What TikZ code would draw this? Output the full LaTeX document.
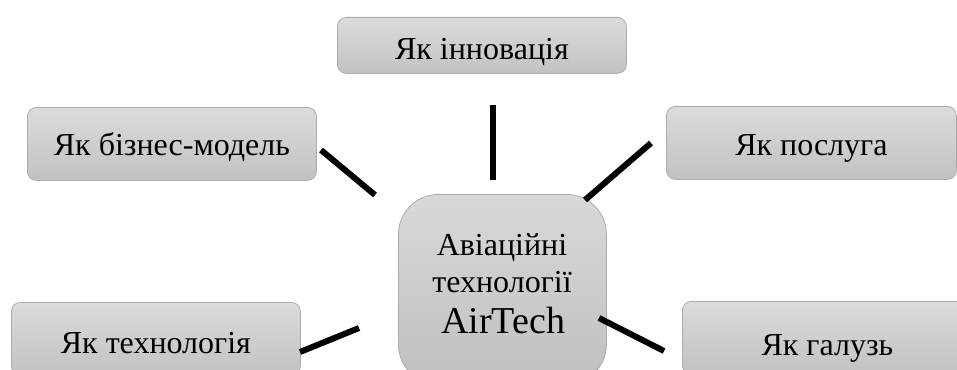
\documentclass[tikz,border=0pt]{standalone}
\usepackage{fontspec}
\setmainfont{Liberation Serif}
\begin{document}
\begin{tikzpicture}[x=1pt,y=-1pt,
  topic/.style={draw=gray!65, line width=0.8pt, rounded corners=9pt,
    top color=gray!28, bottom color=gray!48, inner sep=0pt,
    minimum width=289pt, minimum height=73pt, anchor=north west,
    text depth=0pt, font=\fontsize{32}{36}\selectfont, text=black},
  hub/.style={draw=gray!65, line width=0.8pt, rounded corners=40pt,
    top color=gray!30, bottom color=gray!50, inner sep=0pt},
  hubline/.style={anchor=base, inner sep=0pt, text=black},
  link/.style={line width=6pt, black}]
  \useasboundingbox (0,0) rectangle (957,369);

  % centre box and its three lines of text
  \node[hub, minimum width=208pt, minimum height=190pt, anchor=north west]
    (hub) at (398,194) {};
  \node[hubline, font=\fontsize{32}{36}\selectfont] (hubA) at (502,255) {Авіаційні};
  \node[hubline, font=\fontsize{32}{36}\selectfont] (hubB) at (502,292) {технології};
  \node[hubline, font=\fontsize{38}{42}\selectfont] (hubC) at (503,333) {AirTech};

  % surrounding topics
  \node[topic, minimum height=56pt, text height=28pt]
    (innov) at (337,17) {Як інновація};
  \node[topic, minimum height=73pt, text height=23pt]
    (biz) at (27,107) {Як бізнес-модель};
  \node[topic, minimum width=290pt, minimum height=73pt, text height=25pt]
    (serv) at (666,106) {Як послуга};
  \node[topic, text height=29pt] (tech) at (11,302) {Як технологія};
  \node[topic, minimum width=290pt, text height=35pt] (ind) at (682,301) {Як галузь};

  % connector ends
  \coordinate (innovA) at (493,105);
  \coordinate (innovB) at (493,180);
  \coordinate (bizA) at (321,150);
  \coordinate (bizB) at (375,195);
  \coordinate (servA) at (651,143);
  \coordinate (servB) at (585,200);
  \coordinate (techA) at (300,352);
  \coordinate (techB) at (359,328);
  \coordinate (indA) at (599,318);
  \coordinate (indB) at (664,351);

  \draw[link] (innovA) -- (innovB);
  \draw[link] (bizA) -- (bizB);
  \draw[link] (servA) -- (servB);
  \draw[link] (techA) -- (techB);
  \draw[link] (indA) -- (indB);
\end{tikzpicture}
\end{document}
